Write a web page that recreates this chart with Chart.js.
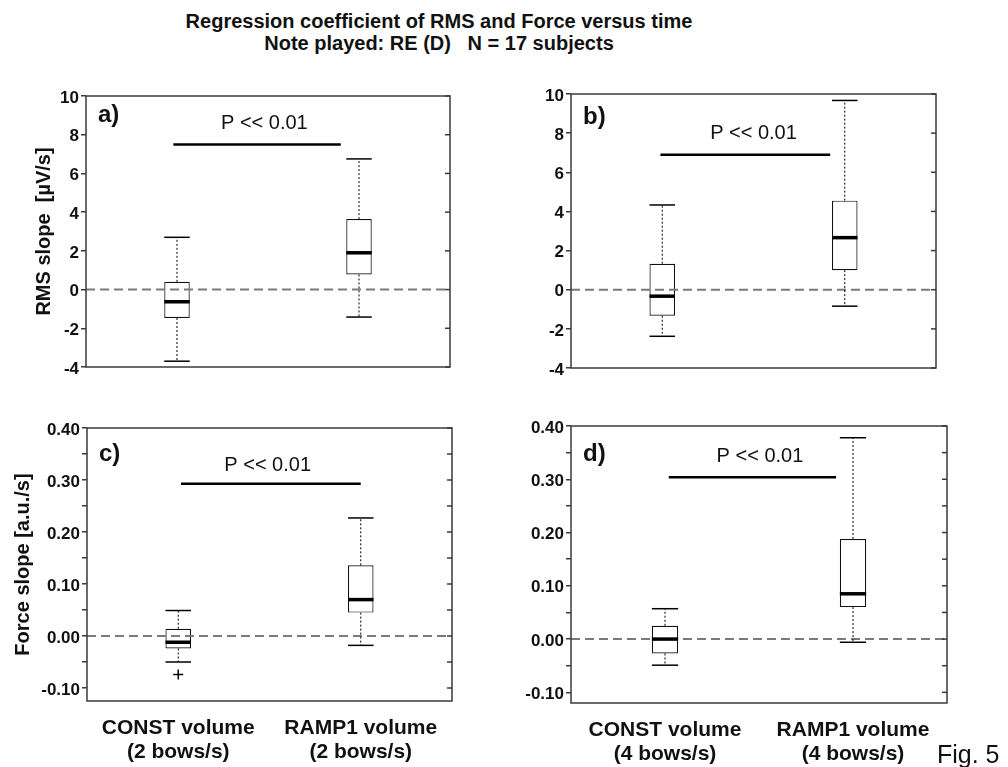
<!DOCTYPE html>
<html>
<head>
<meta charset="utf-8">
<script src="https://cdn.jsdelivr.net/npm/chart.js@4.4.0/dist/chart.umd.min.js"></script>
<style>
    body { margin: 0; background: #fff; width: 1008px; height: 767px; overflow: hidden; position: relative;
           font-family: Arial, "Liberation Sans", sans-serif; color: #111; }
    .panel { position: absolute; }
    #title { position: absolute; left: 0; top: 10px; width: 878px; text-align: center;
             font-weight: bold; font-size: 20px; line-height: 22px; }
    #fig { position: absolute; left: 937px; top: 740px; font-size: 25px; line-height: 28px; }
</style>
</head>
<body>
<div id="title">Regression coefficient of RMS and Force versus time<br>Note played: RE (D)&nbsp;&nbsp; N = 17 subjects</div>
<div class="panel" style="left:0;top:70px;width:470px;height:320px"><canvas id="chartA"></canvas></div>
<div class="panel" style="left:480px;top:70px;width:480px;height:320px"><canvas id="chartB"></canvas></div>
<div class="panel" style="left:0;top:400px;width:470px;height:367px"><canvas id="chartC"></canvas></div>
<div class="panel" style="left:480px;top:400px;width:528px;height:367px"><canvas id="chartD"></canvas></div>
<div id="fig">Fig. 5</div>

<script>
// categories
const labels2 = [['CONST volume', '(2 bows/s)'], ['RAMP1 volume', '(2 bows/s)']];
const labels4 = [['CONST volume', '(4 bows/s)'], ['RAMP1 volume', '(4 bows/s)']];

// tick values (force axes: labelled every 0.10, minor ticks every 0.05)
const rmsTicks = [-4, -2, 0, 2, 4, 6, 8, 10];
const forceTicks = [-0.10, -0.05, 0.00, 0.05, 0.10, 0.15, 0.20, 0.25, 0.30, 0.35, 0.40];
const forceTickLabels = ['-0.10', '', '0.00', '', '0.10', '', '0.20', '', '0.30', '', '0.40'];

// a) RMS slope, 2 bows/s
const rms2Min = [-3.7, -1.42];
const rms2Q1 = [-1.47, 0.78];
const rms2Med = [-0.63, 1.9];
const rms2Q3 = [0.4, 3.64];
const rms2Max = [2.7, 6.75];

// b) RMS slope, 4 bows/s
const rms4Min = [-2.38, -0.84];
const rms4Q1 = [-1.33, 1.0];
const rms4Med = [-0.33, 2.66];
const rms4Q3 = [1.33, 4.55];
const rms4Max = [4.33, 9.67];

// c) Force slope, 2 bows/s
const force2Min = [-0.05, -0.018];
const force2Q1 = [-0.024, 0.045];
const force2Med = [-0.012, 0.07];
const force2Q3 = [0.014, 0.136];
const force2Max = [0.049, 0.227];
const force2Outlier = [-0.074, null];

// d) Force slope, 4 bows/s
const force4Min = [-0.049, -0.006];
const force4Q1 = [-0.027, 0.06];
const force4Med = [0.0, 0.085];
const force4Q3 = [0.025, 0.188];
const force4Max = [0.057, 0.378];

const FONT = 'Arial, "Liberation Sans", sans-serif';

function line(ctx, x1, y1, x2, y2) {
    ctx.beginPath();
    ctx.moveTo(x1, y1);
    ctx.lineTo(x2, y2);
    ctx.stroke();
}

// whiskers, medians, zero line, significance bar, frame
const boxExtras = {
    id: 'boxExtras',
    afterDatasetsDraw(chart, args, o) {
        const { ctx, chartArea: ca, scales: { x, y } } = chart;
        const bars = chart.getDatasetMeta(0).data;
        ctx.save();

        // dashed zero line
        ctx.strokeStyle = '#7a7a7a';
        ctx.lineWidth = 2;
        ctx.setLineDash([9, 5]);
        const y0 = y.getPixelForValue(0);
        line(ctx, ca.left, y0, ca.right, y0);

        bars.forEach((bar, i) => {
            const cx = x.getPixelForValue(i);
            const half = bar.width / 2;
            ctx.strokeStyle = '#000';
            ctx.setLineDash([2, 2]);
            ctx.lineWidth = 1;
            line(ctx, cx, y.getPixelForValue(o.q3[i]), cx, y.getPixelForValue(o.max[i]));
            line(ctx, cx, y.getPixelForValue(o.q1[i]), cx, y.getPixelForValue(o.min[i]));
            ctx.setLineDash([]);
            ctx.lineWidth = 1.5;
            const yMax = y.getPixelForValue(o.max[i]);
            const yMin = y.getPixelForValue(o.min[i]);
            line(ctx, cx - half, yMax, cx + half, yMax);
            line(ctx, cx - half, yMin, cx + half, yMin);
            ctx.lineWidth = 3.5;
            const yMed = y.getPixelForValue(o.med[i]);
            line(ctx, cx - half, yMed, cx + half, yMed);
        });

        // significance bar
        ctx.lineWidth = 2.5;
        const ys = y.getPixelForValue(o.sig.y);
        line(ctx, x.getPixelForValue(o.sig.from), ys, x.getPixelForValue(o.sig.to), ys);
        ctx.fillStyle = '#111';
        ctx.font = '20px ' + FONT;
        ctx.textAlign = 'center';
        ctx.textBaseline = 'middle';
        ctx.fillText('P << 0.01', x.getPixelForValue(o.sig.textX), y.getPixelForValue(o.sig.textY));

        // panel letter
        ctx.font = 'bold 24px ' + FONT;
        ctx.textAlign = 'left';
        ctx.fillText(o.letter, ca.left + 12, y.getPixelForValue(o.letterY));

        // frame and inward ticks on the right
        ctx.strokeStyle = '#3a3a3a';
        ctx.lineWidth = 1.5;
        ctx.strokeRect(ca.left, ca.top, ca.width, ca.height);
        y.ticks.forEach(t => {
            const py = y.getPixelForValue(t.value);
            line(ctx, ca.right - 5, py, ca.right, py);
        });
        ctx.restore();
    }
};

function makeChart(id, p) {
    const datasets = [{
        type: 'bar',
        data: p.q1.map((v, i) => [v, p.q3[i]]),
        backgroundColor: '#fff',
        borderColor: '#111',
        borderWidth: 1.2,
        borderSkipped: false,
        barPercentage: 1,
        categoryPercentage: 0.14
    }];
    if (p.outliers) {
        datasets.push({
            type: 'line',
            data: p.outliers,
            showLine: false,
            pointStyle: 'cross',
            pointRadius: 5,
            borderColor: '#000',
            borderWidth: 1.5
        });
    }
    return new Chart(document.getElementById(id), {
        type: 'bar',
        data: { labels: p.labels, datasets: datasets },
        options: {
            responsive: true,
            maintainAspectRatio: false,
            animation: false,
            layout: { padding: p.padding },
            plugins: {
                legend: { display: false },
                tooltip: { enabled: false },
                boxExtras: {
                    min: p.min, q1: p.q1, med: p.med, q3: p.q3, max: p.max,
                    sig: p.sig, letter: p.letter, letterY: p.letterY
                }
            },
            scales: {
                x: {
                    display: p.showX,
                    offset: true,
                    grid: { display: false, drawTicks: false },
                    border: { display: false },
                    ticks: {
                        color: '#111',
                        padding: 15,
                        font: { family: FONT, size: 21, weight: 'bold', lineHeight: 1.15 }
                    },
                    afterFit: s => { s.height = p.xHeight || 0; }
                },
                y: {
                    min: p.yMin,
                    max: p.yMax,
                    grid: { drawOnChartArea: false, tickLength: 5, color: '#3a3a3a', lineWidth: 1.5 },
                    border: { display: false },
                    title: {
                        display: !!p.yTitle,
                        text: p.yTitle,
                        color: '#111',
                        padding: 0,
                        font: { family: FONT, size: 20, weight: 'bold' }
                    },
                    ticks: {
                        color: '#111',
                        padding: 2,
                        labelOffset: 2,
                        autoSkip: false,
                        font: { family: FONT, size: 17, weight: 'bold' },
                        callback: (v, i) => p.tickLabels[i]
                    },
                    afterBuildTicks: s => {
                        s.ticks = p.ticks.map(v => ({ value: v }));
                    },
                    afterFit: s => { s.width = p.yWidth; }
                }
            }
        },
        plugins: [boxExtras]
    });
}

makeChart('chartA', {
    labels: labels2, min: rms2Min, q1: rms2Q1, med: rms2Med, q3: rms2Q3, max: rms2Max,
    yMin: -4, yMax: 10, ticks: rmsTicks, tickLabels: rmsTicks.map(String), yTitle: 'RMS slope  [\u00b5V/s]',
    yWidth: 54, padding: { left: 32, right: 20, top: 26, bottom: 23 }, showX: false,
    sig: { y: 7.5, from: -0.02, to: 0.9, textX: 0.48, textY: 8.6 }, letter: 'a)', letterY: 9.0
});

makeChart('chartB', {
    labels: labels4, min: rms4Min, q1: rms4Q1, med: rms4Med, q3: rms4Q3, max: rms4Max,
    yMin: -4, yMax: 10, ticks: rmsTicks, tickLabels: rmsTicks.map(String), yTitle: '',
    yWidth: 91, padding: { left: 0, right: 24, top: 24, bottom: 22 }, showX: false,
    sig: { y: 6.9, from: -0.01, to: 0.92, textX: 0.5, textY: 8.0 }, letter: 'b)', letterY: 8.8
});

makeChart('chartC', {
    labels: labels2, min: force2Min, q1: force2Q1, med: force2Med, q3: force2Q3, max: force2Max,
    outliers: force2Outlier,
    yMin: -0.125, yMax: 0.4, ticks: forceTicks, tickLabels: forceTickLabels, yTitle: 'Force slope [a.u./s]',
    yWidth: 76, padding: { left: 11, right: 18, top: 28, bottom: 0 }, showX: true, xHeight: 66,
    sig: { y: 0.293, from: 0.015, to: 1.0, textX: 0.49, textY: 0.328 }, letter: 'c)', letterY: 0.35
});

makeChart('chartD', {
    labels: labels4, min: force4Min, q1: force4Q1, med: force4Med, q3: force4Q3, max: force4Max,
    yMin: -0.12, yMax: 0.4, ticks: forceTicks, tickLabels: forceTickLabels, yTitle: '',
    yWidth: 91, padding: { left: 0, right: 61, top: 26, bottom: 0 }, showX: true, xHeight: 64,
    sig: { y: 0.304, from: 0.02, to: 0.91, textX: 0.505, textY: 0.342 }, letter: 'd)', letterY: 0.347
});
</script>
</body>
</html>
